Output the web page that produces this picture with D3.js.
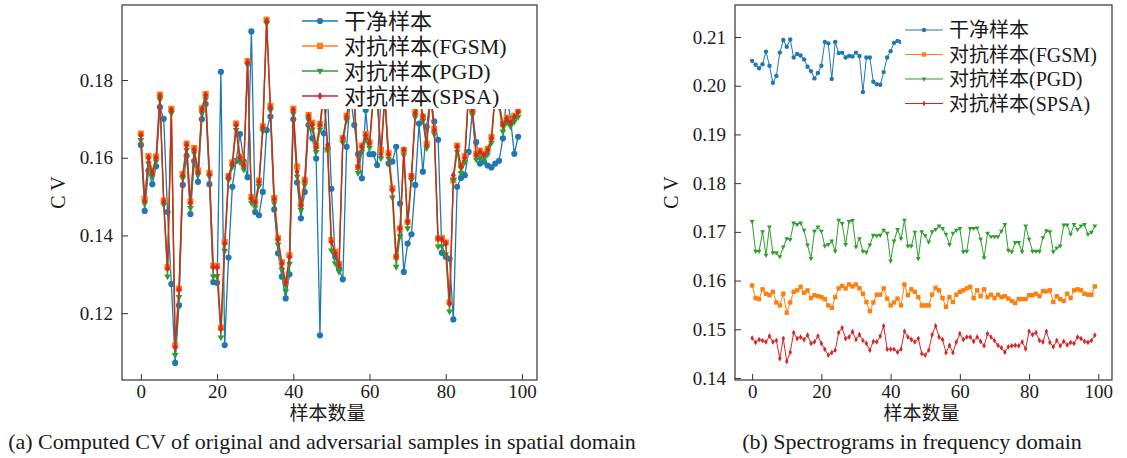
<!DOCTYPE html>
<html>
<head>
<meta charset="utf-8">
<script src="https://cdn.jsdelivr.net/npm/d3@7"></script>
<style>
  body { margin: 0; background: #fff; }
  svg text { font-family: "Liberation Serif", "Noto Sans CJK SC", serif; fill: #1a1a1a; }
</style>
</head>
<body>
<svg id="chart" width="1127" height="458"></svg>
<script>
// sample index on the x axis
const samples = d3.range(100);

const seriesNames = ["干净样本", "对抗样本(FGSM)", "对抗样本(PGD)", "对抗样本(SPSA)"];
const xTicks = [0, 20, 40, 60, 80, 100];
const yTicksA = [0.12, 0.14, 0.16, 0.18];
const yTicksB = [0.14, 0.15, 0.16, 0.17, 0.18, 0.19, 0.20, 0.21];

// (a) spatial domain
const cleanA = [0.1633,0.1463,0.1567,0.1532,0.1578,0.1730,0.1700,0.1460,0.1275,0.1072,
  0.1220,0.1530,0.1605,0.1455,0.1591,0.1538,0.1699,0.1738,0.1532,0.1280,
  0.1278,0.1821,0.1118,0.1343,0.1525,0.1592,0.1661,0.1590,0.1550,0.1925,
  0.1460,0.1452,0.1512,0.1671,0.1706,0.1467,0.1354,0.1294,0.1238,0.1300,
  0.1699,0.1536,0.1444,0.1512,0.1684,0.1650,0.1598,0.1143,0.1663,0.1760,
  0.1520,0.1345,0.1315,0.1287,0.1628,0.1760,0.1684,0.1609,0.1547,0.1723,
  0.1609,0.1609,0.1581,0.1750,0.1760,0.1585,0.1590,0.1628,0.1482,0.1306,
  0.1379,0.1403,0.1530,0.1688,0.1564,0.1680,0.1760,0.1693,0.1646,0.1355,
  0.1345,0.1340,0.1184,0.1525,0.1548,0.1555,0.1615,0.1720,0.1640,0.1585,
  0.1590,0.1580,0.1575,0.1585,0.1592,0.1650,0.1760,0.1700,0.1610,0.1654];
const fgsmA = [0.1662,0.1494,0.1604,0.1566,0.1603,0.1762,0.1490,0.1318,0.1726,0.1117,
  0.1263,0.1558,0.1636,0.1487,0.1625,0.1567,0.1727,0.1764,0.1561,0.1322,
  0.1321,0.1163,0.1383,0.1553,0.1588,0.1688,0.1603,0.1583,0.1849,0.1499,
  0.1487,0.1541,0.1681,0.1955,0.1733,0.1496,0.1393,0.1331,0.1281,0.1349,
  0.1726,0.1577,0.1481,0.1543,0.1710,0.1690,0.1630,0.1687,0.1773,0.1621,
  0.1388,0.1358,0.1327,0.1650,0.1708,0.1773,0.1753,0.1576,0.1631,0.1661,
  0.1640,0.1763,0.1763,0.1620,0.1763,0.1612,0.1521,0.1345,0.1418,0.1620,
  0.1435,0.1553,0.1717,0.1773,0.1706,0.1636,0.1773,0.1674,0.1392,0.1393,
  0.1382,0.1228,0.1542,0.1631,0.1581,0.1604,0.1773,0.1723,0.1610,0.1618,
  0.1610,0.1623,0.1653,0.1773,0.1743,0.1687,0.1703,0.1693,0.1708,0.1721];
const pgdA = [0.1645,0.1481,0.1585,0.1551,0.1590,0.1749,0.1478,0.1294,0.1714,0.1092,
  0.1241,0.1547,0.1620,0.1470,0.1611,0.1555,0.1714,0.1750,0.1551,0.1294,
  0.1295,0.1137,0.1360,0.1542,0.1576,0.1671,0.1588,0.1569,0.1838,0.1484,
  0.1472,0.1527,0.1668,0.1945,0.1721,0.1482,0.1376,0.1311,0.1256,0.1327,
  0.1713,0.1551,0.1465,0.1529,0.1697,0.1672,0.1614,0.1672,0.1762,0.1620,
  0.1361,0.1328,0.1306,0.1638,0.1696,0.1762,0.1742,0.1560,0.1615,0.1646,
  0.1625,0.1752,0.1750,0.1598,0.1751,0.1597,0.1497,0.1319,0.1397,0.1606,
  0.1418,0.1542,0.1704,0.1762,0.1694,0.1624,0.1763,0.1660,0.1371,0.1372,
  0.1351,0.1204,0.1542,0.1615,0.1560,0.1588,0.1762,0.1710,0.1595,0.1600,
  0.1595,0.1608,0.1638,0.1765,0.1730,0.1667,0.1690,0.1680,0.1692,0.1705];
const spsaA = [0.1658,0.1490,0.1600,0.1560,0.1600,0.1759,0.1487,0.1315,0.1723,0.1113,
  0.1260,0.1555,0.1633,0.1484,0.1621,0.1564,0.1724,0.1761,0.1558,0.1319,
  0.1318,0.1160,0.1380,0.1550,0.1585,0.1684,0.1600,0.1580,0.1845,0.1495,
  0.1484,0.1538,0.1678,0.1952,0.1730,0.1493,0.1390,0.1328,0.1278,0.1345,
  0.1723,0.1564,0.1478,0.1540,0.1707,0.1684,0.1627,0.1684,0.1770,0.1633,
  0.1384,0.1354,0.1324,0.1650,0.1705,0.1770,0.1750,0.1577,0.1628,0.1658,
  0.1637,0.1760,0.1760,0.1609,0.1760,0.1609,0.1517,0.1345,0.1418,0.1620,
  0.1435,0.1553,0.1714,0.1770,0.1706,0.1633,0.1770,0.1671,0.1392,0.1390,
  0.1379,0.1225,0.1555,0.1628,0.1577,0.1600,0.1770,0.1720,0.1607,0.1615,
  0.1607,0.1620,0.1650,0.1770,0.1740,0.1684,0.1700,0.1690,0.1705,0.1718];

// (b) frequency domain
const cleanB = [0.2051,0.2043,0.2036,0.2044,0.2070,0.2041,0.2006,0.2020,0.2068,0.2094,
  0.2080,0.2095,0.2058,0.2065,0.2062,0.2054,0.2039,0.2030,0.2015,0.2026,
  0.2041,0.2090,0.2087,0.2014,0.2090,0.2067,0.2068,0.2058,0.2061,0.2060,
  0.2068,0.2061,0.1987,0.2058,0.2058,0.2008,0.2003,0.2002,0.2028,0.2058,
  0.2071,0.2088,0.2092,0.2090,0.2041,0.2054,0.2062,0.2048,0.2071,0.2035,
  0.2058,0.2066,0.2029,0.2044,0.2079,0.2061,0.2052,0.2037,0.2069,0.2083,
  0.2058,0.2046,0.2064,0.2031,0.2055,0.2072,0.2049,0.2061,0.2038,0.2057,
  0.2081,0.2066,0.2043,0.2054,0.2068,0.2027,0.2051,0.2063,0.2075,0.2047,
  0.2059,0.2039,0.2066,0.2052,0.2084,0.2061,0.2045,0.2057,0.2033,0.2064,
  0.2071,0.2049,0.2058,0.2042,0.2067,0.2055,0.2078,0.2061,0.2046,0.2059];
const fgsmB = [0.1590,0.1564,0.1562,0.1582,0.1573,0.1570,0.1577,0.1555,0.1549,0.1573,
  0.1534,0.1555,0.1577,0.1580,0.1587,0.1575,0.1580,0.1564,0.1570,0.1568,
  0.1566,0.1562,0.1549,0.1544,0.1566,0.1584,0.1589,0.1584,0.1592,0.1588,
  0.1592,0.1584,0.1573,0.1556,0.1537,0.1555,0.1571,0.1571,0.1584,0.1563,
  0.1549,0.1555,0.1563,0.1549,0.1592,0.1570,0.1582,0.1577,0.1566,0.1549,
  0.1549,0.1549,0.1571,0.1585,0.1580,0.1564,0.1546,0.1566,0.1556,0.1571,
  0.1577,0.1580,0.1584,0.1587,0.1564,0.1580,0.1568,0.1582,0.1566,0.1571,
  0.1564,0.1571,0.1566,0.1568,0.1563,0.1558,0.1554,0.1562,0.1562,0.1562,
  0.1570,0.1570,0.1573,0.1568,0.1578,0.1578,0.1580,0.1556,0.1568,0.1562,
  0.1558,0.1573,0.1564,0.1580,0.1582,0.1580,0.1573,0.1571,0.1571,0.1588];
const pgdB = [0.1721,0.1660,0.1660,0.1700,0.1652,0.1710,0.1657,0.1657,0.1649,0.1669,
  0.1686,0.1684,0.1718,0.1715,0.1718,0.1703,0.1673,0.1645,0.1701,0.1710,
  0.1701,0.1671,0.1674,0.1681,0.1660,0.1724,0.1717,0.1674,0.1721,0.1723,
  0.1669,0.1686,0.1660,0.1658,0.1673,0.1693,0.1692,0.1693,0.1703,0.1697,
  0.1640,0.1681,0.1705,0.1686,0.1724,0.1671,0.1671,0.1699,0.1645,0.1700,
  0.1692,0.1679,0.1700,0.1705,0.1712,0.1707,0.1695,0.1674,0.1697,0.1703,
  0.1707,0.1659,0.1660,0.1707,0.1707,0.1708,0.1685,0.1647,0.1697,0.1690,
  0.1690,0.1690,0.1701,0.1715,0.1662,0.1659,0.1678,0.1678,0.1659,0.1712,
  0.1685,0.1660,0.1660,0.1660,0.1688,0.1702,0.1700,0.1659,0.1667,0.1671,
  0.1714,0.1714,0.1695,0.1715,0.1705,0.1712,0.1715,0.1695,0.1699,0.1712];
const spsaB = [0.1482,0.1473,0.1479,0.1477,0.1474,0.1486,0.1474,0.1477,0.1440,0.1481,
  0.1434,0.1453,0.1493,0.1481,0.1484,0.1479,0.1488,0.1471,0.1474,0.1486,
  0.1471,0.1459,0.1447,0.1452,0.1457,0.1493,0.1503,0.1481,0.1484,0.1495,
  0.1479,0.1489,0.1477,0.1471,0.1457,0.1475,0.1474,0.1486,0.1507,0.1459,
  0.1459,0.1459,0.1453,0.1459,0.1496,0.1484,0.1479,0.1474,0.1481,0.1450,
  0.1447,0.1457,0.1489,0.1507,0.1484,0.1479,0.1452,0.1467,0.1452,0.1474,
  0.1491,0.1479,0.1484,0.1484,0.1475,0.1484,0.1475,0.1466,0.1491,0.1484,
  0.1477,0.1467,0.1462,0.1453,0.1464,0.1466,0.1467,0.1466,0.1474,0.1460,
  0.1496,0.1489,0.1493,0.1477,0.1474,0.1496,0.1473,0.1464,0.1477,0.1466,
  0.1475,0.1468,0.1473,0.1471,0.1484,0.1481,0.1475,0.1473,0.1477,0.1488];

const colors = ["#1f77b4", "#ff7f0e", "#2ca02c", "#d62728"];

// marker shapes, s = size factor
function markerPath(kind, s) {
  if (kind === 0) return d3.symbol(d3.symbolCircle, Math.PI * s * s)();
  if (kind === 1) return `M${-s},${-s}H${s}V${s}H${-s}Z`;
  if (kind === 2) return `M${-s * 1.1},${-s * 0.7}L${s * 1.1},${-s * 0.7}L0,${s * 1.2}Z`;
  return `M0,${-s * 1.3}L${s * 0.8},0L0,${s * 1.3}L${-s * 0.8},0Z`;
}

const svg = d3.select("#chart");

function drawPanel(p) {
  const x = d3.scaleLinear().domain([-4.95, 103.95]).range([p.left, p.right]);
  const y = d3.scaleLinear().domain(p.yDomain).range([p.bottom, p.top]);
  const g = svg.append("g");

  g.append("defs").append("clipPath").attr("id", p.id)
    .append("rect")
    .attr("x", p.left).attr("y", p.top)
    .attr("width", p.right - p.left).attr("height", p.bottom - p.top);

  const plot = g.append("g").attr("clip-path", `url(#${p.id})`);
  const line = d3.line().x((d, i) => x(samples[i])).y(d => y(d));

  p.series.forEach((vals, k) => {
    plot.append("path")
      .attr("d", line(vals))
      .attr("fill", "none")
      .attr("stroke", colors[k])
      .attr("stroke-width", p.lw);
    plot.selectAll(null)
      .data(vals)
      .enter()
      .append("path")
      .attr("d", markerPath(k, p.ms))
      .attr("transform", (d, i) => `translate(${x(samples[i])},${y(d)})`)
      .attr("fill", colors[k]);
  });

  // legend (opaque box, no edge)
  const lg = g.append("g");
  lg.append("rect")
    .attr("x", p.legend.x).attr("y", p.legend.y)
    .attr("width", p.legend.w).attr("height", p.legend.h)
    .attr("fill", "#fff");
  seriesNames.forEach((name, k) => {
    const cy = p.legend.row0 + k * p.legend.step;
    lg.append("line")
      .attr("x1", p.legend.hx).attr("x2", p.legend.hx + p.legend.hw)
      .attr("y1", cy).attr("y2", cy)
      .attr("stroke", colors[k]).attr("stroke-width", p.lw);
    lg.append("path")
      .attr("d", markerPath(k, p.ms))
      .attr("transform", `translate(${p.legend.hx + p.legend.hw / 2},${cy})`)
      .attr("fill", colors[k]);
    lg.append("text")
      .attr("x", p.legend.hx + p.legend.hw + 6)
      .attr("y", cy)
      .attr("dy", "0.36em")
      .attr("font-size", p.legend.fs)
      .text(name);
  });

  // frame
  g.append("rect")
    .attr("x", p.left).attr("y", p.top)
    .attr("width", p.right - p.left).attr("height", p.bottom - p.top)
    .attr("fill", "none").attr("stroke", "#333").attr("stroke-width", 1.2);

  const xAxis = g.append("g")
    .attr("transform", `translate(0,${p.bottom})`)
    .call(d3.axisBottom(x).tickValues(xTicks).tickFormat(d3.format("d")).tickSize(-6).tickPadding(5));
  const yAxis = g.append("g")
    .attr("transform", `translate(${p.left},0)`)
    .call(d3.axisLeft(y).tickValues(p.yTicks).tickFormat(d3.format(".2f")).tickSize(-6).tickPadding(9));
  [xAxis, yAxis].forEach(a => {
    a.select(".domain").remove();
    a.selectAll("line").attr("stroke", "#333");
    a.selectAll("text").attr("font-size", 19).attr("fill", "#1a1a1a")
      .attr("font-family", "Liberation Serif, serif");
  });

  g.append("text")
    .attr("transform", `translate(${p.left - 57},${(p.top + p.bottom) / 2}) rotate(-90)`)
    .attr("text-anchor", "middle")
    .attr("font-size", 20)
    .text("C V");
  g.append("text")
    .attr("x", (p.left + p.right) / 2 - 2).attr("y", p.bottom + 40)
    .attr("text-anchor", "middle")
    .attr("font-size", 19)
    .text("样本数量");
  g.append("text")
    .attr("x", p.capX).attr("y", 449)
    .attr("text-anchor", "middle")
    .attr("font-size", 22)
    .text(p.caption);
}

drawPanel({
  id: "clipA", left: 122, right: 537, top: 5, bottom: 380,
  yDomain: [0.1028, 0.1993], yTicks: yTicksA,
  series: [cleanA, fgsmA, pgdA, spsaA], lw: 1.3, ms: 3.1,
  legend: { x: 298, y: 8, w: 236, h: 101, row0: 21, step: 25, hx: 302, hw: 36, fs: 22 },
  capX: 322, caption: "(a) Computed CV of original and adversarial samples in spatial domain"
});

drawPanel({
  id: "clipB", left: 735, right: 1112, top: 5, bottom: 380,
  yDomain: [0.13959, 0.21657], yTicks: yTicksB,
  series: [cleanB, fgsmB, pgdB, spsaB], lw: 1.0, ms: 2.2,
  legend: { x: 901, y: 14, w: 208, h: 100, row0: 30, step: 24.5, hx: 905, hw: 38, fs: 20 },
  capX: 912, caption: "(b) Spectrograms in frequency domain"
});
</script>
</body>
</html>
